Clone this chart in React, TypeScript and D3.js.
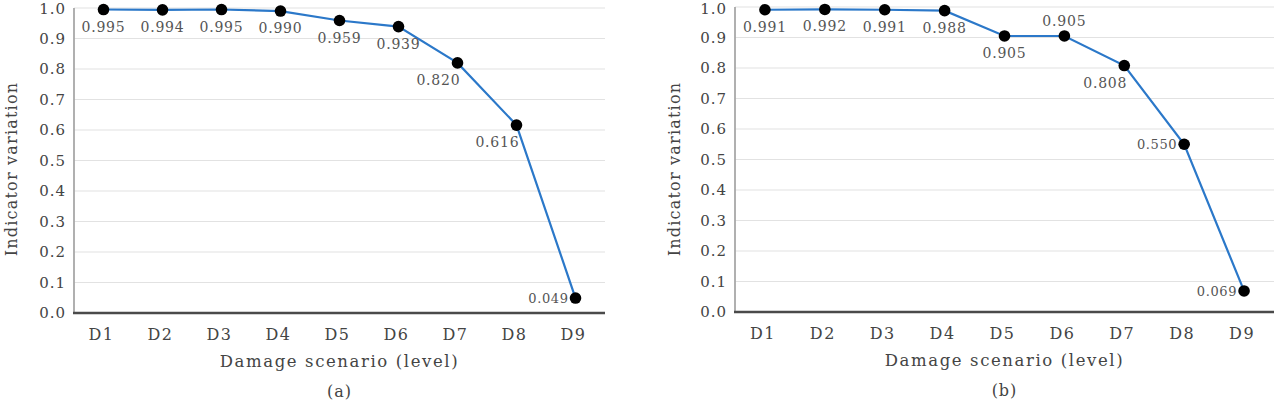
import React from "react";
import * as d3 from "d3";

const categories = ["D1", "D2", "D3", "D4", "D5", "D6", "D7", "D8", "D9"];
const seriesA = [0.995, 0.994, 0.995, 0.99, 0.959, 0.939, 0.82, 0.616, 0.049];
const seriesB = [0.991, 0.992, 0.991, 0.988, 0.905, 0.905, 0.808, 0.55, 0.069];
const yTicks = [0, 0.1, 0.2, 0.3, 0.4, 0.5, 0.6, 0.7, 0.8, 0.9, 1.0];
const placementA = ["below", "below", "below", "below", "below", "below", "belowLeft", "belowLeft", "left"];
const placementB = ["below", "below", "below", "below", "below", "above", "belowLeft", "left", "left"];
const xTitle = "Damage scenario (level)";
const yTitle = "Indicator variation";
const captions = ["(a)", "(b)"];

const FONT = "'DejaVu Serif', serif";

type PanelProps = {
  values: number[];
  placement: string[];
  caption: string;
  x0: number;
  x1: number;
  yTop: number;
  yBottom: number;
  yTitleX: number;
};

function Panel({ values, placement, caption, x0, x1, yTop, yBottom, yTitleX }: PanelProps) {
  const x = d3.scalePoint<string>().domain(categories).range([x0, x1]).padding(0.5);
  const y = d3.scaleLinear().domain([0, 1]).range([yBottom, yTop]);
  const line = d3
    .line<number>()
    .x((_, i) => x(categories[i]) as number)
    .y((d) => y(d));
  const cx = (x0 + x1) / 2;
  const fmt = d3.format(".3f");
  const fmtTick = d3.format(".1f");
  return (
    <g>
      {yTicks.map((t) =>
        t > 0 ? (
          <line key={"g" + t} x1={x0} x2={x1} y1={y(t)} y2={y(t)} stroke="#e2e2e2" strokeWidth={1.2} />
        ) : null
      )}
      <line x1={x0} x2={x0} y1={y(1)} y2={y(0)} stroke="#a8a8a8" strokeWidth={1.8} />
      <line x1={x0 - 1} x2={x1} y1={y(0)} y2={y(0)} stroke="#4a4a4a" strokeWidth={2.4} />
      {yTicks.map((t) => (
        <text
          key={"t" + t}
          x={x0 - 8}
          y={Math.max(y(t) + 5.4, 14.2)}
          textAnchor="end"
          fontFamily={FONT}
          fontSize={15}
          letterSpacing={1}
          fill="#444"
        >
          {fmtTick(t)}
        </text>
      ))}
      {categories.map((c) => (
        <text
          key={"c" + c}
          x={(x(c) as number) - 2}
          y={yBottom + 27}
          textAnchor="middle"
          fontFamily={FONT}
          fontSize={16}
          letterSpacing={1.5}
          fill="#444"
        >
          {c}
        </text>
      ))}
      <text x={cx} y={yBottom + 54} textAnchor="middle" fontFamily={FONT} fontSize={16.5} letterSpacing={1.6} fill="#444">
        {xTitle}
      </text>
      <text x={cx} y={yBottom + 84} textAnchor="middle" fontFamily={FONT} fontSize={16} letterSpacing={1} fill="#444">
        {caption}
      </text>
      <text
        transform={`translate(${yTitleX},${169}) rotate(-90)`}
        textAnchor="middle"
        fontFamily={FONT}
        fontSize={16}
        letterSpacing={1.2}
        fill="#444"
      >
        {yTitle}
      </text>
      <path d={line(values) || ""} fill="none" stroke="#2b78c9" strokeWidth={2.2} />
      {values.map((v, i) => (
        <circle key={"p" + i} cx={x(categories[i]) as number} cy={y(v)} r={5.8} fill="#000" />
      ))}
      {values.map((v, i) => {
        const px = x(categories[i]) as number;
        const py = y(v);
        const p = placement[i];
        let tx = px;
        let ty = py + 22;
        let anchor = "middle";
        if (p === "belowLeft") {
          tx = px + 3;
          ty = py + 22;
          anchor = "end";
        } else if (p === "left") {
          tx = px - 7;
          ty = py + 5;
          anchor = "end";
        } else if (p === "above") {
          tx = px;
          ty = py - 10;
          anchor = "middle";
        }
        return (
          <text
            key={"l" + i}
            x={tx}
            y={ty}
            textAnchor={anchor}
            fontFamily={FONT}
            fontSize={p === "left" ? 13 : 14}
            letterSpacing={p === "left" ? 0.6 : 0.8}
            fill="#555"
          >
            {fmt(v)}
          </text>
        );
      })}
    </g>
  );
}

export default function App() {
  return (
    <svg
      width={1284}
      height={402}
      viewBox="0 0 1284 402"
      style={{ position: "absolute", left: 0, top: 0, background: "#fff" }}
    >
      <rect x={0} y={0} width={1284} height={402} fill="#fff" />
      <Panel values={seriesA} placement={placementA} caption={captions[0]} x0={74} x1={605} yTop={8} yBottom={313} yTitleX={17} />
      <Panel values={seriesB} placement={placementB} caption={captions[1]} x0={735} x1={1274} yTop={7} yBottom={312} yTitleX={680} />
    </svg>
  );
}
